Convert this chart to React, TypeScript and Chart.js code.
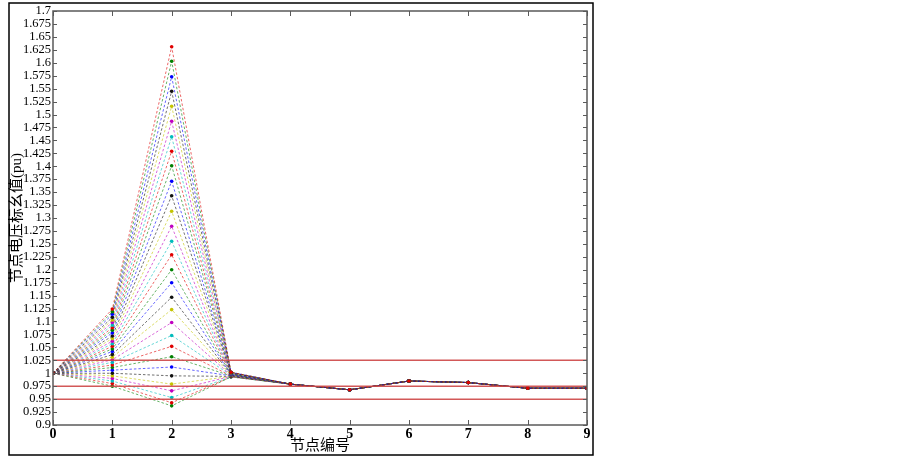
import React, { useEffect, useRef } from "react";
import { Chart, registerables } from "chart.js";

Chart.register(...registerables);

// ---- data ----
const nodeIds = [0, 1, 2, 3, 4, 5, 6, 7, 8, 9];
const node0Value = 1.0;
const node1Values = [
  1.124, 1.119, 1.114, 1.108, 1.103, 1.098, 1.093, 1.088, 1.083, 1.078,
  1.072, 1.067, 1.062, 1.057, 1.052, 1.047, 1.042, 1.036, 1.031, 1.026,
  1.021, 1.016, 1.011, 1.006, 1.0, 0.995, 0.99, 0.985, 0.98, 0.975,
];
const node2Values = [
  1.631, 1.603, 1.573, 1.545, 1.516, 1.487, 1.457, 1.429, 1.401, 1.371,
  1.343, 1.313, 1.284, 1.255, 1.229, 1.2, 1.175, 1.147, 1.123, 1.098,
  1.073, 1.052, 1.032, 1.012, 0.995, 0.979, 0.966, 0.953, 0.943, 0.937,
];
const node3Values = [
  1.002, 1.002, 1.002, 1.001, 1.001, 1.001, 1.0, 1.0, 1.0, 0.999,
  0.999, 0.999, 0.998, 0.998, 0.998, 0.997, 0.997, 0.997, 0.996, 0.996,
  0.996, 0.995, 0.995, 0.995, 0.994, 0.994, 0.994, 0.993, 0.993, 0.993,
];
const tailValues = [0.979, 0.968, 0.985, 0.982, 0.971, 0.971]; // nodes 4..9
const seriesColors = ["#e00000", "#008000", "#0000ff", "#111111", "#c4c400", "#c000c0", "#00bcbc"];
const seriesLineColors = [
  "rgba(224,0,0,0.6)",
  "rgba(0,128,0,0.6)",
  "rgba(0,0,255,0.6)",
  "rgba(17,17,17,0.6)",
  "rgba(196,196,0,0.6)",
  "rgba(192,0,192,0.6)",
  "rgba(0,188,188,0.6)",
];
const limitValues = [1.025, 0.975, 0.95];
const yMin = 0.9;
const yMax = 1.7;
const yStep = 0.025;
const xTitle = "节点编号";
const yTitle = "节点电压标幺值(pu)";

const SERIF = "'Liberation Serif', 'Times New Roman', serif";
const CJK = "'Liberation Serif', 'Noto Sans CJK SC', serif";

function seriesPoints(i: number) {
  const ys = [node0Value, node1Values[i], node2Values[i], node3Values[i], ...tailValues];
  return nodeIds.map((x, k) => ({ x, y: ys[k] }));
}

const framePlugin = {
  id: "matlabFrame",
  afterDraw(chart: any) {
    const { ctx, chartArea: a, scales } = chart;
    const xs = scales.x;
    const ys = scales.y;
    ctx.save();
    ctx.strokeStyle = "#5a5a5a";
    ctx.lineWidth = 1;
    ctx.beginPath();
    ys.ticks.forEach((t: any) => {
      const p = Math.round(ys.getPixelForValue(t.value)) + 0.5;
      ctx.moveTo(a.left, p);
      ctx.lineTo(a.left + 4, p);
      ctx.moveTo(a.right, p);
      ctx.lineTo(a.right - 4, p);
    });
    xs.ticks.forEach((t: any) => {
      const p = Math.round(xs.getPixelForValue(t.value)) + 0.5;
      ctx.moveTo(p, a.bottom);
      ctx.lineTo(p, a.bottom - 5);
      ctx.moveTo(p, a.top);
      ctx.lineTo(p, a.top + 5);
    });
    ctx.stroke();
    ctx.lineWidth = 1.5;
    ctx.strokeRect(a.left, a.top, a.right - a.left, a.bottom - a.top);
    ctx.strokeStyle = "#000";
    ctx.lineWidth = 1.5;
    ctx.strokeRect(9, 3, 584, 452);
    ctx.restore();
  },
};

export default function App() {
  const ref = useRef<HTMLCanvasElement | null>(null);
  useEffect(() => {
    if (!ref.current) return;
    const datasets: any[] = [];
    limitValues.forEach((v) => {
      datasets.push({
        data: [
          { x: nodeIds[0], y: v },
          { x: nodeIds[nodeIds.length - 1], y: v },
        ],
        borderColor: "rgba(205,70,70,0.9)",
        borderWidth: 1.5,
        pointRadius: 0,
        fill: false,
      });
    });
    node2Values.forEach((_, i) => {
      const c = seriesColors[i % seriesColors.length];
      datasets.push({
        data: seriesPoints(i),
        borderColor: seriesLineColors[i % seriesLineColors.length],
        backgroundColor: c,
        borderWidth: 1,
        borderDash: [2.5, 2],
        pointRadius: 1.8,
        pointBorderWidth: 0,
        pointBackgroundColor: c,
        fill: false,
        tension: 0,
      });
    });
    const chart = new Chart(ref.current, {
      type: "line",
      data: { datasets },
      plugins: [framePlugin],
      options: {
        animation: false,
        responsive: false,
        layout: { padding: { left: 0, top: 11, right: 316, bottom: 0 } },
        plugins: { legend: { display: false }, tooltip: { enabled: false } },
        scales: {
          x: {
            type: "linear",
            min: 0,
            max: 9,
            grid: { display: false, drawTicks: false },
            border: { display: false },
            ticks: {
              stepSize: 1,
              autoSkip: false,
              padding: 1,
              color: "#000",
              font: { family: SERIF, size: 14, weight: "bold" },
            },
            title: {
              display: true,
              text: xTitle,
              color: "#000",
              font: { family: CJK, size: 15 },
              padding: { top: 0, bottom: 2 },
            },
            afterFit: (s: any) => {
              s.height = 32;
            },
          },
          y: {
            type: "linear",
            min: yMin,
            max: yMax,
            grid: { display: false, drawTicks: false },
            border: { display: false },
            ticks: {
              stepSize: yStep,
              autoSkip: false,
              padding: 2,
              color: "#000",
              font: { family: SERIF, size: 12.5 },
              callback: (v: any) => String(parseFloat(Number(v).toFixed(3))),
            },
            title: {
              display: true,
              text: yTitle,
              color: "#000",
              font: { family: CJK, size: 15 },
              padding: { top: 8, bottom: 0 },
            },
            afterFit: (s: any) => {
              s.width = 53;
            },
          },
        },
      },
    });
    return () => chart.destroy();
  }, []);
  return (
    <div style={{ position: "absolute", left: 0, top: 0, width: 903, height: 457, background: "#fff" }}>
      <canvas ref={ref} width={903} height={457} style={{ width: 903, height: 457, display: "block" }} />
    </div>
  );
}
